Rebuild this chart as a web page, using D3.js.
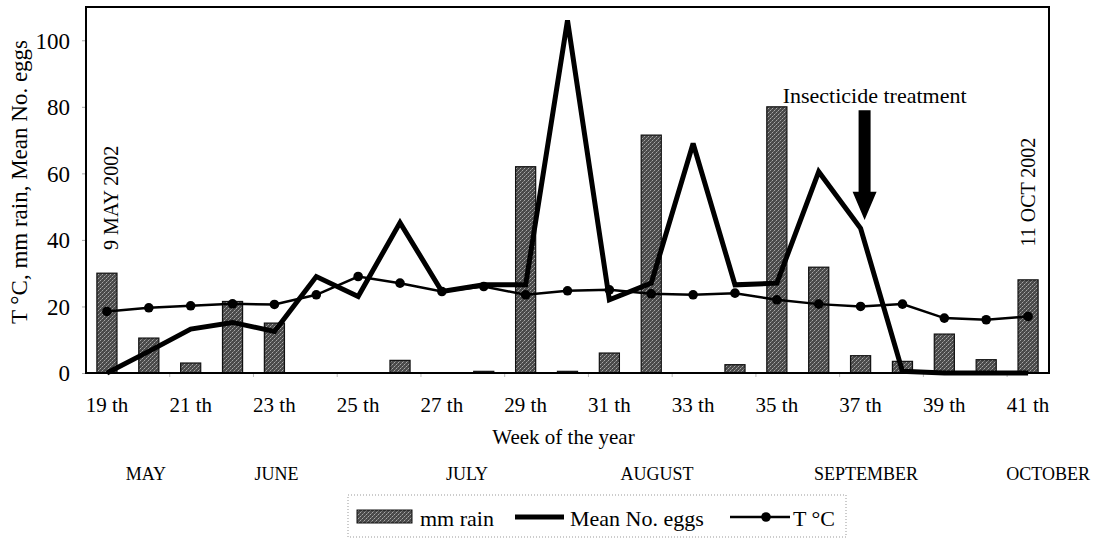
<!DOCTYPE html>
<html>
<head>
<meta charset="utf-8">
<script src="https://cdn.jsdelivr.net/npm/d3@7"></script>
<style>
  html, body { margin: 0; padding: 0; background: #fff; }
  svg { display: block; }
</style>
</head>
<body>
<div id="chart"></div>
<script>
// week numbers (x categories)
const weeks = ["19","20","21","22","23","24","25","26","27","28","29","30","31","32","33","34","35","36","37","38","39","40","41"];
// only odd weeks get a label
const weekLabels = ["19","21","23","25","27","29","31","33","35","37","39","41"];

const rain = [30, 10.5, 3, 21.5, 15, 0, 0, 3.8, 0, 0.5, 62, 0.5, 6, 71.5, 0, 2.5, 80, 31.8, 5.2, 3.5, 11.7, 4, 28];
const eggs = [0, 6.5, 13.2, 15.2, 12.5, 29, 23, 45.2, 24.5, 26.5, 26.5, 106, 22, 27, 69, 26.5, 27, 60.5, 43.5, 0.5, 0, 0, 0];
const temp = [18.5, 19.6, 20.2, 20.8, 20.6, 23.5, 29, 27, 24.5, 26, 23.5, 24.7, 25, 23.8, 23.5, 24, 22, 20.7, 20, 20.7, 16.5, 16, 17];

const yTicks = [0, 20, 40, 60, 80, 100];

// month names and the (fractional) week they sit under
const months = ["MAY", "JUNE", "JULY", "AUGUST", "SEPTEMBER", "OCTOBER"];
const monthWeeks = [19.93, 23.05, 27.6, 32.14, 37.13, 41.48];

const width = 1110, height = 539;
const margin = { top: 7, right: 61, bottom: 166, left: 86 };
const serif = "'Liberation Serif', 'Times New Roman', serif";

const svg = d3.select("#chart").append("svg")
    .attr("width", width)
    .attr("height", height)
    .style("background", "white")
    .style("font-family", serif);

const x = d3.scaleBand()
    .domain(weeks)
    .range([margin.left, width - margin.right]);
const bw = x.bandwidth();

// continuous week -> px, used for month captions
const xWeek = d3.scaleLinear()
    .domain([18.5, 41.5])
    .range([margin.left, width - margin.right]);

const y = d3.scaleLinear()
    .domain([0, 110])
    .range([height - margin.bottom, margin.top]);

// stippled dark grey fill for the rain bars
const pat = svg.append("defs").append("pattern")
    .attr("id", "rainFill")
    .attr("patternUnits", "userSpaceOnUse")
    .attr("width", 4).attr("height", 4);
pat.append("rect").attr("width", 4).attr("height", 4).attr("fill", "#4a4a4a");
pat.append("rect").attr("x", 0).attr("y", 0).attr("width", 1).attr("height", 1).attr("fill", "#a8a8a8");
pat.append("rect").attr("x", 2).attr("y", 2).attr("width", 1).attr("height", 1).attr("fill", "#a8a8a8");
pat.append("rect").attr("x", 3).attr("y", 1).attr("width", 1).attr("height", 1).attr("fill", "#7a7a7a");
pat.append("rect").attr("x", 1).attr("y", 3).attr("width", 1).attr("height", 1).attr("fill", "#7a7a7a");

// y axis
const yAxis = svg.append("g")
    .attr("transform", `translate(${margin.left},0)`)
    .call(d3.axisLeft(y).tickValues(yTicks).tickSize(4).tickPadding(12));
yAxis.select(".domain").remove();
yAxis.selectAll(".tick line").attr("stroke", "#aaa");
yAxis.selectAll("text")
    .style("font-family", serif)
    .style("font-size", "23px")
    .attr("fill", "#000")
    .attr("dy", "0.34em");

// x axis labels
const xAxis = svg.append("g")
    .attr("transform", `translate(0,${y(0)})`)
    .call(d3.axisBottom(x).tickValues(weekLabels).tickSize(0).tickPadding(24)
        .tickFormat(d => d + " th"));
xAxis.select(".domain").remove();
xAxis.selectAll("text")
    .style("font-family", serif)
    .style("font-size", "21px")
    .attr("fill", "#000");

// faint tick marks between every second week
svg.append("g").selectAll("line")
    .data(weekLabels.slice(1))
    .join("line")
    .attr("x1", d => x(d)).attr("x2", d => x(d))
    .attr("y1", y(0) + 1).attr("y2", y(0) + 4)
    .attr("stroke", "#bbb");

// bars
svg.append("g").selectAll("rect")
    .data(weeks)
    .join("rect")
    .attr("x", (d, i) => x(d) + bw * 0.26)
    .attr("width", bw * 0.48)
    .attr("y", (d, i) => y(rain[i]))
    .attr("height", (d, i) => y(0) - y(rain[i]))
    .attr("fill", "url(#rainFill)")
    .attr("stroke", (d, i) => rain[i] > 0 ? "#111" : "none")
    .attr("stroke-width", 1.2);

const cx = d => x(d) + bw / 2;

// temperature line
svg.append("path")
    .datum(weeks)
    .attr("fill", "none")
    .attr("stroke", "#000")
    .attr("stroke-width", 2.5)
    .attr("d", d3.line().x(d => cx(d)).y((d, i) => y(temp[i])));

svg.append("g").selectAll("circle")
    .data(weeks)
    .join("circle")
    .attr("cx", d => cx(d))
    .attr("cy", (d, i) => y(temp[i]))
    .attr("r", 4.8)
    .attr("fill", "#000");

// eggs line
svg.append("path")
    .datum(weeks)
    .attr("fill", "none")
    .attr("stroke", "#000")
    .attr("stroke-width", 5)
    .attr("stroke-linejoin", "miter")
    .attr("stroke-miterlimit", 3)
    .attr("d", d3.line().x(d => cx(d)).y((d, i) => y(eggs[i])));

// plot frame
svg.append("rect")
    .attr("x", margin.left).attr("y", margin.top)
    .attr("width", width - margin.left - margin.right)
    .attr("height", y(0) - margin.top)
    .attr("fill", "none")
    .attr("stroke", "#000")
    .attr("stroke-width", 2);

// date annotations
svg.append("text")
    .attr("transform", `translate(${cx("19") + 11},${y(37)}) rotate(-90)`)
    .style("font-size", "20px")
    .text("9 MAY 2002");

svg.append("text")
    .attr("transform", `translate(${cx("41") + 7},${y(38)}) rotate(-90)`)
    .style("font-size", "20px")
    .text("11 OCT 2002");

// insecticide arrow
const ax = cx("37") + 4;
const arrow = d3.path();
arrow.moveTo(ax - 6, y(79));
arrow.lineTo(ax + 6, y(79));
arrow.lineTo(ax + 6, y(54.5));
arrow.lineTo(ax + 12, y(54.5));
arrow.lineTo(ax, y(46));
arrow.lineTo(ax - 12, y(54.5));
arrow.lineTo(ax - 6, y(54.5));
arrow.closePath();
svg.append("path").attr("d", arrow.toString()).attr("fill", "#000");

svg.append("text")
    .attr("x", ax + 10).attr("y", y(81))
    .attr("text-anchor", "middle")
    .style("font-size", "22px")
    .text("Insecticide treatment");

// axis titles
svg.append("text")
    .attr("transform", `translate(27,${(y(0) + margin.top) / 2 - 8}) rotate(-90)`)
    .attr("text-anchor", "middle")
    .style("font-size", "23px")
    .text("T °C, mm rain, Mean No. eggs");

svg.append("text")
    .attr("x", (margin.left + width - margin.right) / 2 - 4)
    .attr("y", 444)
    .attr("text-anchor", "middle")
    .style("font-size", "21px")
    .text("Week of the year");

// months
svg.append("g").selectAll("text")
    .data(months)
    .join("text")
    .attr("x", (d, i) => xWeek(monthWeeks[i]))
    .attr("y", 480)
    .attr("text-anchor", "middle")
    .style("font-size", "18px")
    .text(d => d);

// legend
const lg = svg.append("g");
lg.append("rect")
    .attr("x", 348).attr("y", 495)
    .attr("width", 498).attr("height", 42)
    .attr("fill", "none")
    .attr("stroke", "#999")
    .attr("stroke-dasharray", "1,2");

lg.append("rect")
    .attr("x", 357).attr("y", 510).attr("width", 55).attr("height", 13)
    .attr("fill", "url(#rainFill)").attr("stroke", "#111");
lg.append("text").attr("x", 420).attr("y", 526).style("font-size", "22px").text("mm rain");

lg.append("line")
    .attr("x1", 515).attr("x2", 564).attr("y1", 517).attr("y2", 517)
    .attr("stroke", "#000").attr("stroke-width", 5);
lg.append("text").attr("x", 570).attr("y", 526).style("font-size", "22px").text("Mean No. eggs");

lg.append("line")
    .attr("x1", 730).attr("x2", 790).attr("y1", 517).attr("y2", 517)
    .attr("stroke", "#000").attr("stroke-width", 2.5);
lg.append("circle").attr("cx", 766).attr("cy", 517).attr("r", 4.8).attr("fill", "#000");
lg.append("text").attr("x", 793).attr("y", 526).style("font-size", "22px").text("T °C");
</script>
</body>
</html>
